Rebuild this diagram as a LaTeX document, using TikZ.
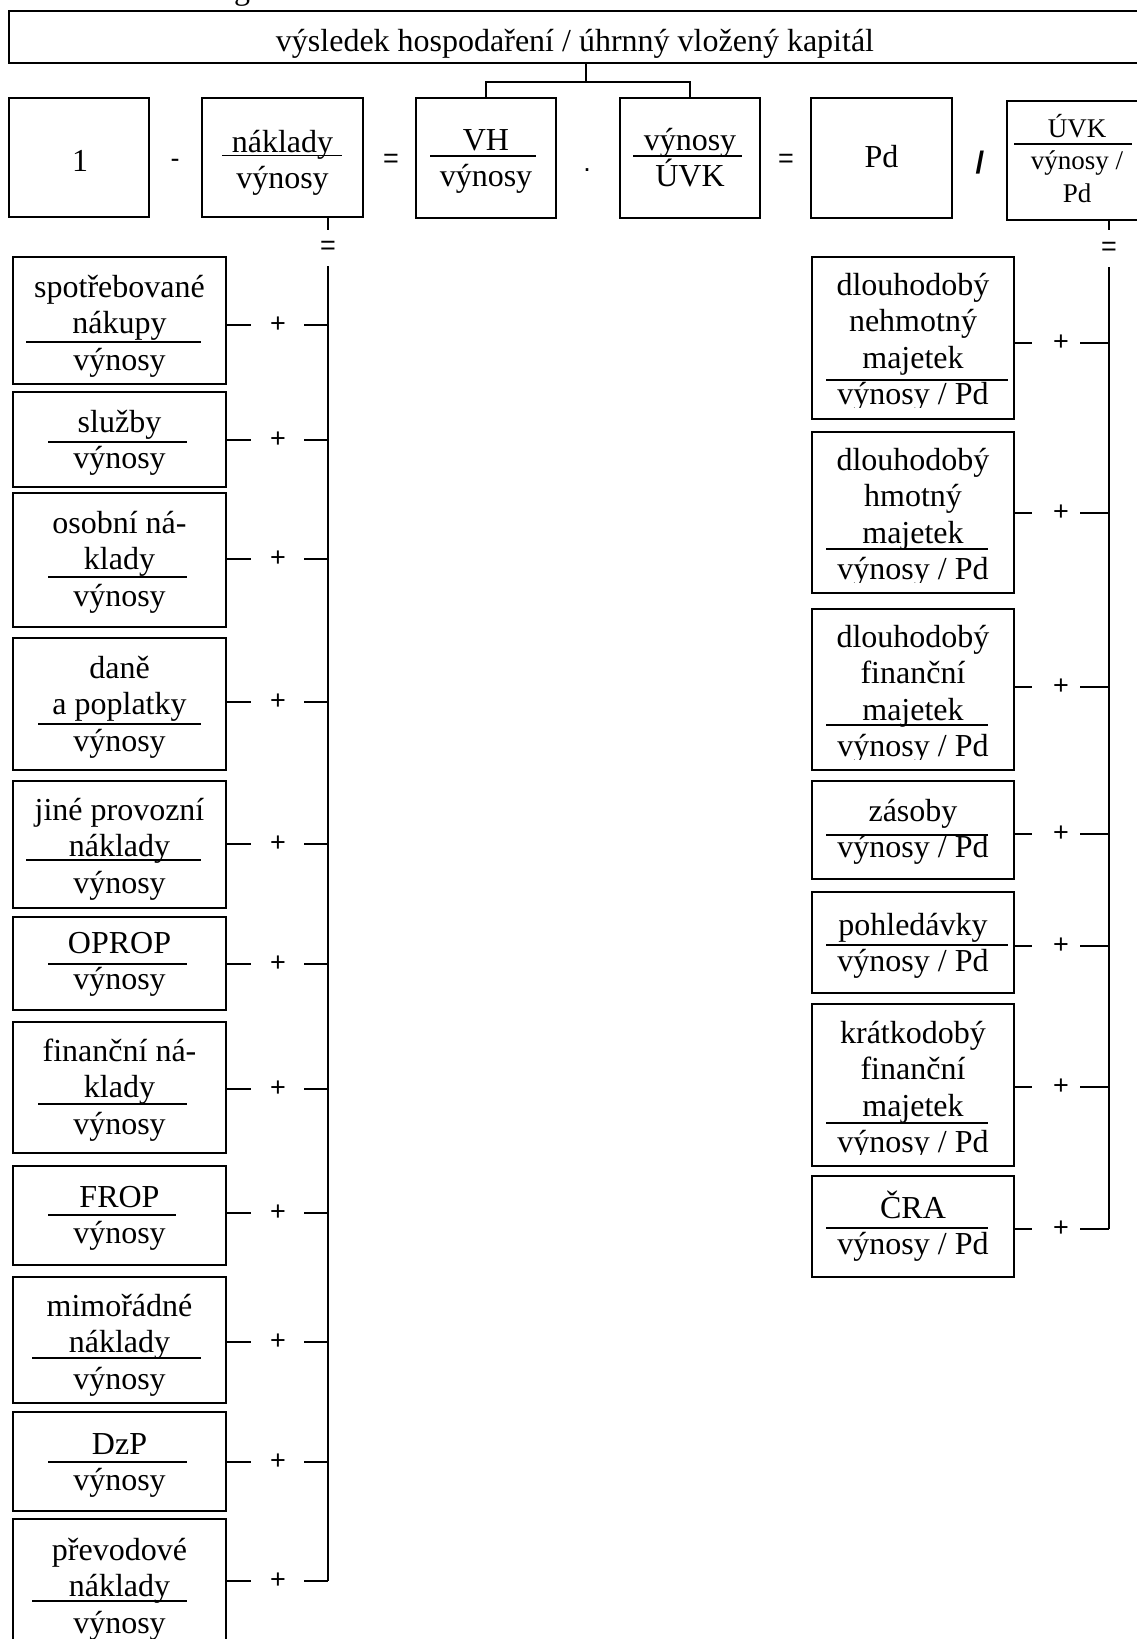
\documentclass[tikz,border=0pt]{standalone}
\usepackage{fontspec}
\setmainfont{Liberation Serif}
\newfontfamily\opfont{Liberation Sans}
\usetikzlibrary{fit}
\newcommand\tstrut{\rule{0pt}{15pt}}
\tikzset{
 box/.style={draw, line width=0.65pt, inner sep=0pt},
 txt/.style={inner sep=0pt, align=center, font=\fontsize{16}{18.2}\selectfont, anchor=north},
 ttl/.style={inner sep=0pt, font=\fontsize{16}{18.2}\selectfont, anchor=base},
 op/.style={inner sep=0pt, font=\opfont\fontsize{13.5}{15}\selectfont},
 conn/.style={line width=1pt},
 frule/.style={line width=0.85pt},
}
% name, top, bottom, first baseline, rule y, rule x1, rule x2, text
\newcommand\lbox[8]{%
  \node[box, fit={(13,#2) (226,#3)}] (#1) {};
  \node[txt] (#1t) at (119.5,#4-30) {\tstrut #8};
  \draw[frule] (#6,#5) -- (#7,#5);
}
% name, top, bottom, first baseline, rule y, rule x2, clip y, text
\newcommand\rbox[8]{%
  \node[box, fit={(812,#2) (1014,#3)}] (#1) {};
  \begin{scope}
    \clip (812,#2) rectangle (1014,#7);
    \node[txt] (#1t) at (913,#4-30) {\tstrut #8};
  \end{scope}
  \draw[frule] (826,#5) -- (#6,#5);
}
\begin{document}
\begin{tikzpicture}[x=0.5pt,y=-0.5pt]
\useasboundingbox (0,0) rectangle (1136,1639);

% cut-off caption letter
\node[ttl] (capg) at (242,-1) {g};

% title box
\node[box, fit={(9,11) (1145,63)}] (top) {};
\node[ttl] (topt) at (575,51) {výsledek hospodaření / úhrnný vložený kapitál};

% top row
\node[box, fit={(9,98) (149,217)}] (one) {};
\node[ttl] (onet) at (80,171) {1};
\node[op] (o1) at (175,163) {-};
\node[box, fit={(202,98) (363,217)}] (nak) {};
\node[txt] (nakt) at (282.5,152-30) {\tstrut náklady\\výnosy};
\draw[frule] (222,155.5) -- (342,155.5);
\node[op] (o2) at (391,161) {=};
\node[box, fit={(416,98) (556,218)}] (vh) {};
\node[txt] (vht) at (486,150-30) {\tstrut VH\\výnosy};
\draw[frule] (430,156) -- (536,156);
\node[op] (o3) at (587,170) {.};
\node[box, fit={(620,98) (760,218)}] (vu) {};
\node[txt] (vut) at (690,150-30) {\tstrut výnosy\\ÚVK};
\draw[frule] (633,156) -- (742,156);
\node[op] (o4) at (786,161) {=};
\node[box, fit={(811,98) (952,218)}] (pd) {};
\node[ttl] (pdt) at (881.5,167) {Pd};
\node[op, font=\opfont\bfseries\fontsize{15.5}{17}\selectfont] (o5) at (980,163) {/};
\node[box, fit={(1007,101) (1147,220)}] (uvk) {};
\node[txt, font=\fontsize{13.5}{16.2}\selectfont] (uvkt) at (1077,137-30) {\tstrut ÚVK\\výnosy /\\Pd};
\draw[frule] (1014,144) -- (1132,144);

% junction from title
\coordinate (j) at (586,82);
\draw[conn] (top.south -| j) -- (j);
\draw[conn] (vh.north) |- (j) -| (vu.north);

% left column
\lbox{L1}{257}{384}{297}{342}{26}{201}{spotřebované\\nákupy\\výnosy}
\lbox{L2}{392}{487}{432}{442}{48}{187}{služby\\výnosy}
\lbox{L3}{493}{627}{533}{577}{48}{187}{osobní ná-\\klady\\výnosy}
\lbox{L4}{638}{770}{678}{724}{38}{201}{daně\\a poplatky\\výnosy}
\lbox{L5}{781}{908}{820}{860}{26}{201}{jiné provozní\\náklady\\výnosy}
\lbox{L6}{917}{1010}{953}{964}{48}{187}{OPROP\\výnosy}
\lbox{L7}{1022}{1153}{1061}{1104}{38}{187}{finanční ná-\\klady\\výnosy}
\lbox{L8}{1166}{1265}{1207}{1215}{48}{176}{FROP\\výnosy}
\lbox{L9}{1277}{1403}{1316}{1358}{32}{201}{mimořádné\\náklady\\výnosy}
\lbox{L10}{1412}{1511}{1454}{1462}{48}{187}{DzP\\výnosy}
\lbox{L11}{1519}{1652}{1560}{1601}{32}{187}{převodové\\náklady\\výnosy}

% left bus
\node[op, minimum height=18pt] (leq) at (328,248) {=};
\draw[conn] (nak.south -| leq) -- (leq.north);
\foreach \i/\y in {1/325,2/440,3/559,4/702,5/844,6/964,7/1089,8/1213,9/1342,10/1462,11/1581}{
  \node[op] (lp\i) at (278,\y) {+};
  \draw[conn] (L\i.east |- lp\i) -- ([xshift=-13.5pt]lp\i.center);
  \draw[conn] ([xshift=13pt]lp\i.center) -- (lp\i -| leq);
}
\draw[conn] (leq.south) -- (leq.south |- lp11);

% right column
\rbox{R1}{257}{419}{295}{380}{1008}{407}{dlouhodobý\\nehmotný\\majetek\\výnosy / Pd}
\rbox{R2}{432}{593}{470}{549}{988}{582}{dlouhodobý\\hmotný\\majetek\\výnosy / Pd}
\rbox{R3}{609}{770}{647}{725}{988}{759}{dlouhodobý\\finanční\\majetek\\výnosy / Pd}
\rbox{R4}{781}{879}{821}{835}{988}{879}{zásoby\\výnosy / Pd}
\rbox{R5}{892}{993}{935}{945}{1008}{993}{pohledávky\\výnosy / Pd}
\rbox{R6}{1004}{1166}{1043}{1123}{988}{1154}{krátkodobý\\finanční\\majetek\\výnosy / Pd}
\rbox{R7}{1176}{1277}{1218}{1228}{988}{1277}{ČRA\\výnosy / Pd}

% right bus
\node[op, minimum height=18.5pt] (req) at (1109,248.5) {=};
\draw[conn] (uvk.south -| req) -- (req.north);
\foreach \i/\y in {1/343,2/513,3/687,4/834,5/946,6/1087,7/1229}{
  \node[op] (rp\i) at (1061,\y) {+};
  \draw[conn] (R\i.east |- rp\i) -- ([xshift=-14.5pt]rp\i.center);
  \draw[conn] ([xshift=9.5pt]rp\i.center) -- (rp\i -| req);
}
\draw[conn] (req.south) -- (req.south |- rp7);
\end{tikzpicture}
\end{document}
